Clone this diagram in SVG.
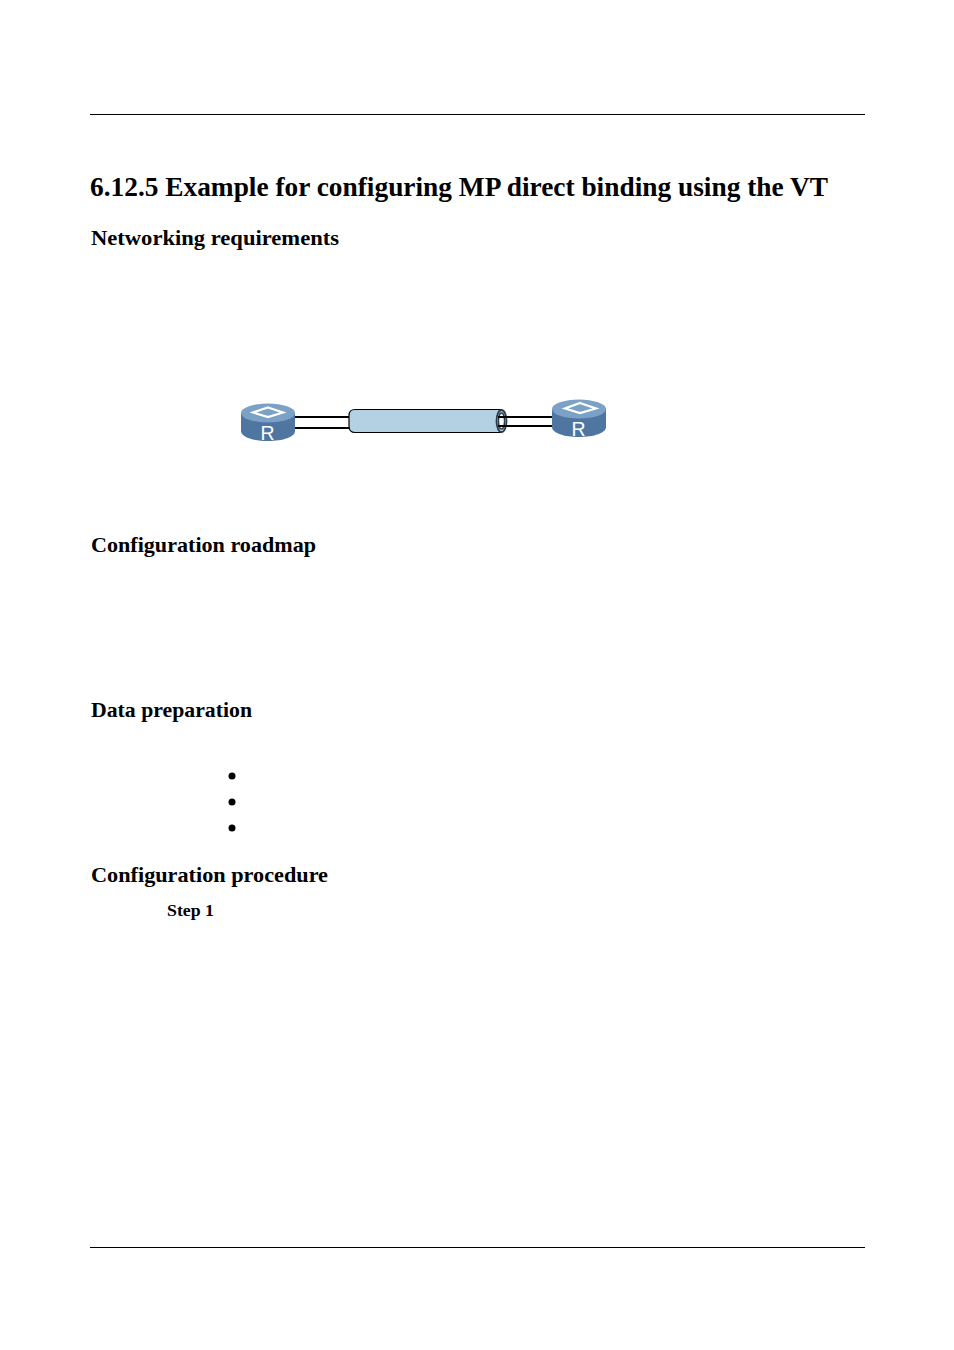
<svg xmlns="http://www.w3.org/2000/svg" width="954" height="1350" viewBox="0 0 954 1350">
<style>
.h{font-family:"Liberation Serif","DejaVu Serif",serif;font-weight:bold;fill:#000}
.h2{font-size:22px}
.rule{stroke:#000;stroke-width:1;fill:none}
.link{stroke:#000;stroke-width:2;fill:none}
.side{fill:#4f75a1}
.top{fill:#7ba1c6}
.dia{fill:#7ba1c6;stroke:#fff;stroke-width:2.200}
.r{font-family:"Liberation Sans",Arial,sans-serif;font-size:19.500px;fill:#fff}
</style>
<rect width="954" height="1350" fill="#fff"/>
<line class="rule" x1="90" y1="114.500" x2="865" y2="114.500"/>
<line class="rule" x1="90" y1="1247.500" x2="865" y2="1247.500"/>
<text class="h" x="90" y="196" font-size="27" textLength="738" lengthAdjust="spacingAndGlyphs">6.12.5 Example for configuring MP direct binding using the VT</text>
<text class="h h2" x="91" y="245" textLength="248" lengthAdjust="spacingAndGlyphs">Networking requirements</text>
<text class="h h2" x="91" y="552" textLength="225" lengthAdjust="spacingAndGlyphs">Configuration roadmap</text>
<text class="h h2" x="91" y="717" textLength="161" lengthAdjust="spacingAndGlyphs">Data preparation</text>
<text class="h h2" x="91" y="882" textLength="237" lengthAdjust="spacingAndGlyphs">Configuration procedure</text>
<text class="h" x="167" y="916" font-size="17" textLength="47" lengthAdjust="spacingAndGlyphs">Step 1</text>
<g id="bullets" fill="#000">
<circle cx="232" cy="776" r="3.500"/>
<circle cx="232" cy="802" r="3.500"/>
<circle cx="232" cy="828" r="3.500"/>
</g>
<g id="connectors">
<line class="link" x1="295" y1="417" x2="352" y2="417"/>
<line class="link" x1="295" y1="428" x2="352" y2="428"/>
</g>
<g id="tube">
<path d="M355 409.500H501V432.500H355Q349 432.500 349 426V415.500Q349 409.500 355 409.500Z" fill="#b4d1e3" stroke="#000" stroke-width="1.200"/>
<ellipse cx="501.500" cy="421" rx="5" ry="11" fill="#b4d1e3" stroke="#2c3c48" stroke-width="1.800"/>
<ellipse cx="501.500" cy="421" rx="3" ry="8" fill="#fff" stroke="#2c3c48" stroke-width="1.400"/>
</g>
<g id="connectors-right">
<line class="link" x1="498" y1="417" x2="552" y2="417"/>
<line class="link" x1="498" y1="426" x2="552" y2="426"/>
</g>
<g id="router-left">
<path class="side" d="M241 413V431C241 437 253 441 268 441S295 437 295 431V413Z"/>
<ellipse class="top" cx="268" cy="413" rx="27" ry="9.500"/>
<path class="dia" d="M268 407.500L283 412.500L268 417L253 412.500Z"/>
<text class="r" x="267.500" y="439.500" text-anchor="middle">R</text>
</g>
<g id="router-right">
<path class="side" d="M552 409V427C552 433 564 437 579 437S606 433 606 427V409Z"/>
<ellipse class="top" cx="579" cy="409" rx="27" ry="9.500"/>
<path class="dia" d="M580 403L596 408.500L580 413L565 408.500Z"/>
<text class="r" x="578.500" y="435.500" text-anchor="middle">R</text>
</g>
</svg>
